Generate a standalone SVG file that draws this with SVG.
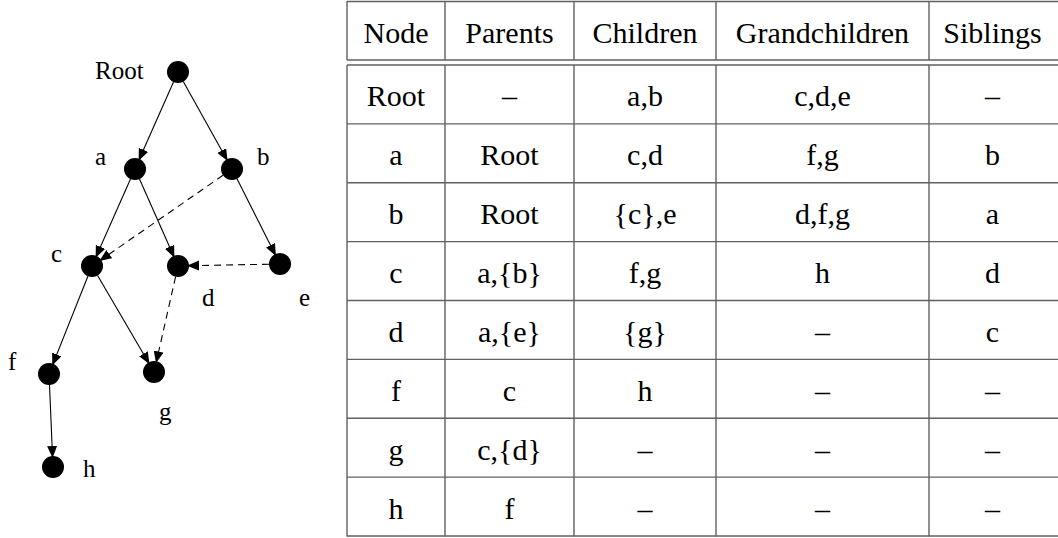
<svg xmlns="http://www.w3.org/2000/svg" width="1058" height="538" viewBox="0 0 1058 538">
  <style>
    .node { fill: #000; }
    .lbl { font-family: 'Liberation Serif', serif; font-size: 25px; fill: #000; }
    .edge { stroke: #000; stroke-width: 1.1; fill: none; marker-end: url(#arrow); }
    .dash { stroke-dasharray: 7 5; }
    .grid { stroke: #606060; stroke-width: 1.4; fill: none; }
    .cell { font-family: 'Liberation Serif', serif; font-size: 30px; fill: #000; text-anchor: middle; }
  </style>
  <defs>
    <marker id="arrow" markerUnits="userSpaceOnUse" markerWidth="14" markerHeight="11" refX="12" refY="5" orient="auto">
      <path d="M0,0 L12,5 L0,10 z" fill="#000"/>
    </marker>
  </defs>
  <rect width="1058" height="538" fill="#fff"/>

  <!-- connectors -->
  <g id="edges">
    <line class="edge" x1="173.5" y1="82" x2="138.6" y2="160.8"/>
    <line class="edge" x1="183.3" y1="81.6" x2="227.6" y2="161.1"/>
    <line class="edge" x1="130.5" y1="179" x2="95.6" y2="257.8"/>
    <line class="edge" x1="139.5" y1="179" x2="174.4" y2="257.8"/>
    <line class="edge" x1="237" y1="178.8" x2="275.9" y2="256"/>
    <line class="edge" x1="87.9" y1="276.2" x2="52.3" y2="365.6"/>
    <line class="edge" x1="97.6" y1="275.5" x2="149.5" y2="364.2"/>
    <line class="edge" x1="49.5" y1="385" x2="52.6" y2="458"/>
    <line class="edge dash" x1="223" y1="175.3" x2="99.4" y2="260.9"/>
    <line class="edge dash" x1="269" y1="264.2" x2="187" y2="265.8"/>
    <line class="edge dash" x1="175.6" y1="276.7" x2="156" y2="363.2"/>
  </g>

  <!-- nodes -->
  <g font-family="Liberation Serif" font-size="25">
    <g id="node-root"><circle class="node" cx="178" cy="72" r="11"/><text class="lbl" x="95" y="79">Root</text></g>
    <g id="node-a"><circle class="node" cx="135" cy="169" r="11"/><text class="lbl" x="95" y="165">a</text></g>
    <g id="node-b"><circle class="node" cx="232" cy="169" r="11"/><text class="lbl" x="257" y="165">b</text></g>
    <g id="node-c"><circle class="node" cx="92" cy="266" r="11"/><text class="lbl" x="51" y="262">c</text></g>
    <g id="node-d"><circle class="node" cx="178" cy="266" r="11"/><text class="lbl" x="202" y="306">d</text></g>
    <g id="node-e"><circle class="node" cx="280" cy="264" r="11"/><text class="lbl" x="299" y="306">e</text></g>
    <g id="node-f"><circle class="node" cx="49" cy="374" r="11"/><text class="lbl" x="8" y="370">f</text></g>
    <g id="node-g"><circle class="node" cx="154" cy="372" r="11"/><text class="lbl" x="159" y="420">g</text></g>
    <g id="node-h"><circle class="node" cx="53" cy="467" r="11"/><text class="lbl" x="83" y="477">h</text></g>
  </g>

  <!-- relation table -->
  <g id="table" font-family="Liberation Serif" font-size="30">
    <g class="grid">
      <line x1="347" y1="1.5" x2="1058" y2="1.5"/>
      <line x1="347" y1="60" x2="1058" y2="60"/>
      <line x1="347" y1="65" x2="1058" y2="65"/>
      <line x1="347" y1="123.9" x2="1058" y2="123.9"/>
      <line x1="347" y1="182.8" x2="1058" y2="182.8"/>
      <line x1="347" y1="241.6" x2="1058" y2="241.6"/>
      <line x1="347" y1="300.5" x2="1058" y2="300.5"/>
      <line x1="347" y1="359.4" x2="1058" y2="359.4"/>
      <line x1="347" y1="418.3" x2="1058" y2="418.3"/>
      <line x1="347" y1="477.1" x2="1058" y2="477.1"/>
      <line x1="347" y1="536" x2="1058" y2="536"/>
      <line x1="347" y1="1" x2="347" y2="60"/>
      <line x1="445" y1="1" x2="445" y2="60"/>
      <line x1="574" y1="1" x2="574" y2="60"/>
      <line x1="716" y1="1" x2="716" y2="60"/>
      <line x1="929" y1="1" x2="929" y2="60"/>
      <line x1="347" y1="65" x2="347" y2="536.5"/>
      <line x1="445" y1="65" x2="445" y2="536.5"/>
      <line x1="574" y1="65" x2="574" y2="536.5"/>
      <line x1="716" y1="65" x2="716" y2="536.5"/>
      <line x1="929" y1="65" x2="929" y2="536.5"/>
    </g>
    <g id="header">
      <text class="cell" x="396" y="43">Node</text>
      <text class="cell" x="509.5" y="43">Parents</text>
      <text class="cell" x="645" y="43">Children</text>
      <text class="cell" x="822.5" y="43">Grandchildren</text>
      <text class="cell" x="992.5" y="43">Siblings</text>
    </g>
    <g id="row-root">
      <text class="cell" x="396" y="106">Root</text>
      <text class="cell" x="509.5" y="106">–</text>
      <text class="cell" x="645" y="106">a,b</text>
      <text class="cell" x="822.5" y="106">c,d,e</text>
      <text class="cell" x="992.5" y="106">–</text>
    </g>
    <g id="row-a">
      <text class="cell" x="396" y="165">a</text>
      <text class="cell" x="509.5" y="165">Root</text>
      <text class="cell" x="645" y="165">c,d</text>
      <text class="cell" x="822.5" y="165">f,g</text>
      <text class="cell" x="992.5" y="165">b</text>
    </g>
    <g id="row-b">
      <text class="cell" x="396" y="224">b</text>
      <text class="cell" x="509.5" y="224">Root</text>
      <text class="cell" x="645" y="224">{c},e</text>
      <text class="cell" x="822.5" y="224">d,f,g</text>
      <text class="cell" x="992.5" y="224">a</text>
    </g>
    <g id="row-c">
      <text class="cell" x="396" y="283">c</text>
      <text class="cell" x="509.5" y="283">a,{b}</text>
      <text class="cell" x="645" y="283">f,g</text>
      <text class="cell" x="822.5" y="283">h</text>
      <text class="cell" x="992.5" y="283">d</text>
    </g>
    <g id="row-d">
      <text class="cell" x="396" y="342">d</text>
      <text class="cell" x="509.5" y="342">a,{e}</text>
      <text class="cell" x="645" y="342">{g}</text>
      <text class="cell" x="822.5" y="342">–</text>
      <text class="cell" x="992.5" y="342">c</text>
    </g>
    <g id="row-f">
      <text class="cell" x="396" y="401">f</text>
      <text class="cell" x="509.5" y="401">c</text>
      <text class="cell" x="645" y="401">h</text>
      <text class="cell" x="822.5" y="401">–</text>
      <text class="cell" x="992.5" y="401">–</text>
    </g>
    <g id="row-g">
      <text class="cell" x="396" y="460">g</text>
      <text class="cell" x="509.5" y="460">c,{d}</text>
      <text class="cell" x="645" y="460">–</text>
      <text class="cell" x="822.5" y="460">–</text>
      <text class="cell" x="992.5" y="460">–</text>
    </g>
    <g id="row-h">
      <text class="cell" x="396" y="519">h</text>
      <text class="cell" x="509.5" y="519">f</text>
      <text class="cell" x="645" y="519">–</text>
      <text class="cell" x="822.5" y="519">–</text>
      <text class="cell" x="992.5" y="519">–</text>
    </g>
  </g>
</svg>
